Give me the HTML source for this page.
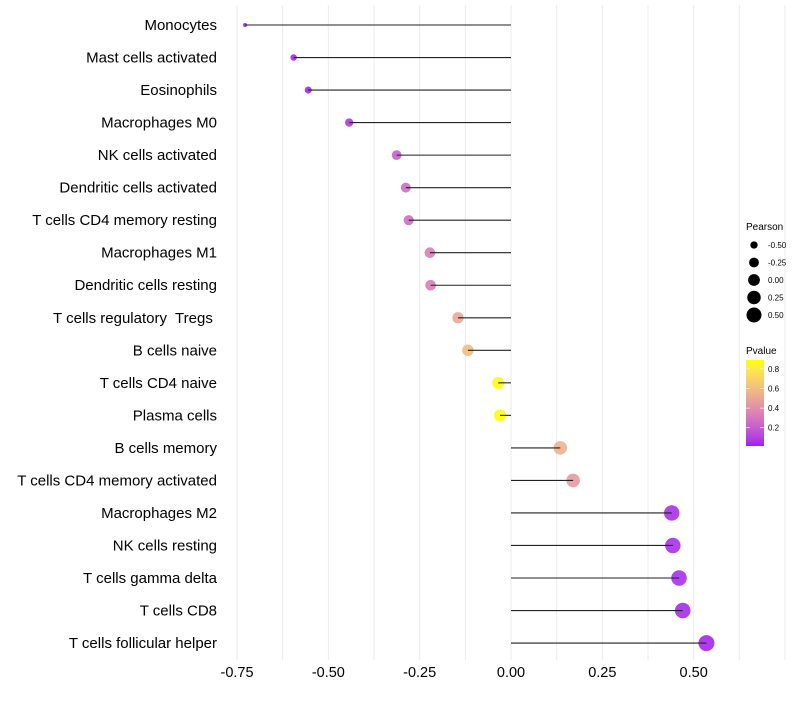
<!DOCTYPE html>
<html><head><meta charset="utf-8"><style>
body{margin:0;background:#fff;}
svg text{font-family:"Liberation Sans",sans-serif;white-space:pre;}
</style></head><body>
<svg id="c" width="800" height="700" xmlns="http://www.w3.org/2000/svg"></svg>
<script>
const categories=["Monocytes","Mast cells activated","Eosinophils","Macrophages M0","NK cells activated","Dendritic cells activated","T cells CD4 memory resting","Macrophages M1","Dendritic cells resting","T cells regulatory  Tregs ","B cells naive","T cells CD4 naive","Plasma cells","B cells memory","T cells CD4 memory activated","Macrophages M2","NK cells resting","T cells gamma delta","T cells CD8","T cells follicular helper"];
const pearson=[-0.728,-0.595,-0.555,-0.443,-0.313,-0.288,-0.28,-0.222,-0.22,-0.145,-0.118,-0.035,-0.03,0.135,0.17,0.44,0.443,0.46,0.47,0.535];
const pvalues=[0.02,0.03,0.03,0.08,0.22,0.26,0.26,0.33,0.33,0.5,0.6,0.88,0.88,0.55,0.45,0.05,0.05,0.05,0.04,0.03];
const xTicks=[-0.75,-0.5,-0.25,0,0.25,0.5];
const xTickLabels=["-0.75","-0.50","-0.25","0.00","0.25","0.50"];
const sizeLegend=[-0.5,-0.25,0,0.25,0.5];
const sizeLegendLabels=["-0.50","-0.25","0.00","0.25","0.50"];
const pLegend=[0.2,0.4,0.6,0.8];

const svg=document.getElementById('c');
const NS="http://www.w3.org/2000/svg";
function mk(t,a,p){const e=document.createElementNS(NS,t);for(const k in a)e.setAttribute(k,a[k]);(p||svg).appendChild(e);return e;}
const x=v=>511+v*365.3;
const y=i=>25+i*32.53;
const rad=v=>Math.sqrt(Math.max(2,4+(v+0.73)*60/1.265));
const pMin=0.014,pMax=0.89;
function s2l(c){c/=255;return c<=0.04045?c/12.92:Math.pow((c+0.055)/1.055,2.4);}
function l2s(c){c=c<=0.0031308?12.92*c:1.055*Math.pow(c,1/2.4)-0.055;return Math.round(Math.min(1,Math.max(0,c))*255);}
function toLab(r,g,b){r=s2l(r);g=s2l(g);b=s2l(b);
 let X=(0.4124*r+0.3576*g+0.1805*b)/0.95047,Y=0.2126*r+0.7152*g+0.0722*b,Z=(0.0193*r+0.1192*g+0.9505*b)/1.08883;
 const f=t=>t>0.008856?Math.cbrt(t):7.787*t+16/116;
 return [116*f(Y)-16,500*(f(X)-f(Y)),200*(f(Y)-f(Z))];}
function fromLab(L,a,b){const fy=(L+16)/116,fx=fy+a/500,fz=fy-b/200;
 const fi=t=>t*t*t>0.008856?t*t*t:(t-16/116)/7.787;
 const X=fi(fx)*0.95047,Y=fi(fy),Z=fi(fz)*1.08883;
 const r=3.2406*X-1.5372*Y-0.4986*Z,g=-0.9689*X+1.8758*Y+0.0415*Z,bb=0.0557*X-0.2040*Y+1.0570*Z;
 return [l2s(r),l2s(g),l2s(bb)];}
const LA=toLab(160,32,240),LB=toLab(255,255,0);
function col(p){const t=Math.min(1,Math.max(0,(p-pMin)/(pMax-pMin)));
 const c=fromLab(LA[0]+(LB[0]-LA[0])*t,LA[1]+(LB[1]-LA[1])*t,LA[2]+(LB[2]-LA[2])*t);
 return `rgb(${c[0]},${c[1]},${c[2]})`;}

for(let v=-0.75;v<=0.751;v+=0.125){const g=mk('line',{x1:x(v),x2:x(v),y1:5,y2:660,stroke:'#ebebeb','stroke-width':1});

}
xTicks.forEach((v,i)=>{const t=mk('text',{x:x(v),y:677,'text-anchor':'middle','font-size':14.5,fill:'#000'});t.textContent=xTickLabels[i];

});
categories.forEach((c,i)=>{
 const t=mk('text',{x:217,y:y(i)+5,'text-anchor':'end','font-size':15,fill:'#000'});t.textContent=c;
 
 
 const d=mk('circle',{cx:x(pearson[i]),cy:y(i),r:rad(pearson[i]),fill:col(pvalues[i]),'fill-opacity':0.9});
 
 
 const l=mk('line',{x1:x(0),x2:x(pearson[i]),y1:y(i),y2:y(i),stroke:'#222','stroke-width':1.1});
 
 
});
let tt=mk('text',{x:746,y:230,'font-size':10});tt.textContent="Pearson";


sizeLegend.forEach((v,i)=>{const cy=245+i*17.5;
 const c=mk('circle',{cx:754,cy:cy,r:rad(v)*0.95,fill:'#000'});
 
 
 const t=mk('text',{x:768,y:cy+3,'font-size':8});t.textContent=sizeLegendLabels[i];
 
 });
tt=mk('text',{x:746,y:354,'font-size':10});tt.textContent="Pvalue";


const defs=mk('defs',{});const g=mk('linearGradient',{id:'pg',x1:0,y1:1,x2:0,y2:0},defs);
for(let k=0;k<=20;k++){mk('stop',{offset:k/20,'stop-color':col(pMin+(pMax-pMin)*k/20)},g);}
const bar=mk('rect',{x:746,y:360,width:18,height:86,fill:'url(#pg)'});


const py=p=>446-(p-pMin)/(pMax-pMin)*86;
pLegend.forEach(p=>{mk('line',{x1:746,x2:750,y1:py(p),y2:py(p),stroke:'#fff','stroke-width':0.6});mk('line',{x1:760,x2:764,y1:py(p),y2:py(p),stroke:'#fff','stroke-width':0.6});
 const t=mk('text',{x:768,y:py(p)+3,'font-size':8});t.textContent=p.toFixed(1);
 
 });
</script>
</body></html>
